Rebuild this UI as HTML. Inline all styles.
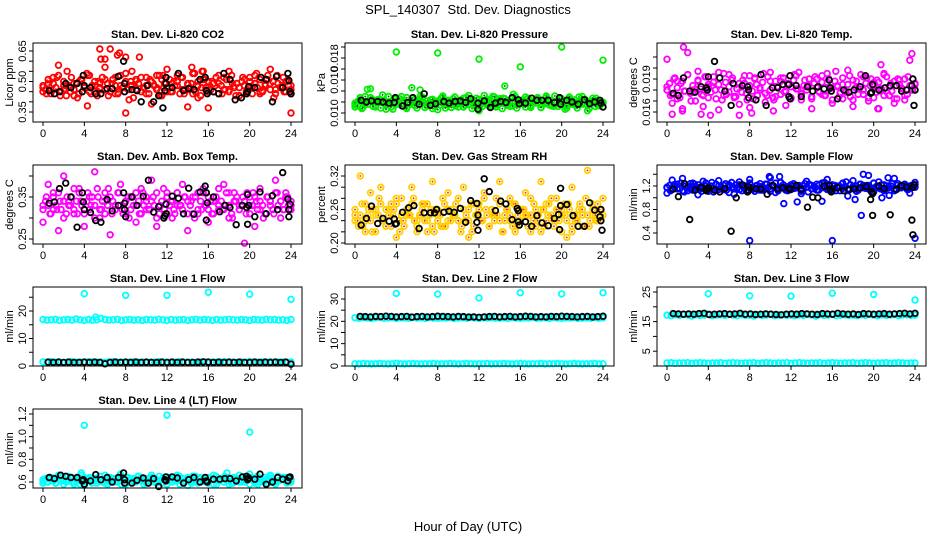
<!DOCTYPE html>
<html><head><meta charset="utf-8"><title>SPL_140307 Std. Dev. Diagnostics</title>
<style>html,body{margin:0;padding:0;background:#fff;}svg{display:block;font-family:"Liberation Sans",sans-serif;}</style>
</head><body>
<svg id="chart" width="936" height="540" viewBox="0 0 936 540" xmlns="http://www.w3.org/2000/svg">
<rect x="0" y="0" width="936" height="540" fill="#fff"/>
<text x="468" y="14" text-anchor="middle" font-size="13">SPL_140307&#160; Std. Dev. Diagnostics</text>
<text x="468" y="531" text-anchor="middle" font-size="13">Hour of Day (UTC)</text>
</svg>
<script>
const hourTicks=[0,4,8,12,16,20,24];
// Panel 1 CO2
const co2A=[0.47,0.44,0.50,0.46,0.52,0.43,0.48,0.55,0.45,0.49,0.42,0.51,0.47,0.53,0.44,0.48,0.50,0.46,0.57,0.43,0.49,0.52,0.45,0.47,0.54,0.41,0.48,0.50,0.62,0.46,0.44,0.51,0.49,0.53,0.43,0.47,0.56,0.45,0.50,0.48,0.52,0.44,0.46,0.49,0.54,0.42,0.47,0.51,0.45,0.50,0.48,0.53,0.44,0.46,0.55,0.49,0.43,0.47,0.52,0.45,0.50,0.48,0.54,0.44,0.46,0.51,0.49,0.42,0.53,0.47,0.45,0.50,0.48];
const co2B=[0.45,0.49,0.52,0.58,0.46,0.48,0.43,0.50,0.47,0.53,0.45,0.49,0.51,0.66,0.44,0.48,0.62,0.50,0.46,0.52,0.48,0.39,0.47,0.51,0.45,0.49,0.53,0.46,0.48,0.44,0.50,0.55,0.47,0.45,0.49,0.52,0.46,0.48,0.43,0.51,0.47,0.53,0.45,0.49,0.56,0.46,0.48,0.50,0.44];
const co2C=[0.48,0.46,0.51,0.44,0.49,0.47,0.53,0.45,0.50,0.43,0.48,0.52,0.46,0.49,0.44,0.51,0.47,0.54,0.45,0.48,0.50,0.43,0.47,0.52,0.46,0.49,0.45,0.51,0.48,0.44,0.53,0.47,0.50,0.46,0.48,0.42,0.51,0.49,0.45,0.47,0.52,0.44,0.50,0.48,0.46,0.53,0.43,0.49,0.47,0.51,0.45,0.48,0.50,0.44,0.52,0.46,0.49,0.47,0.54,0.45,0.48,0.43,0.51,0.47,0.50,0.46,0.49,0.52,0.44,0.48,0.46,0.51,0.45,0.53,0.47,0.49,0.43,0.50,0.48,0.46,0.52,0.44,0.49,0.47,0.51,0.45,0.48,0.53,0.46,0.50,0.44,0.49,0.47,0.52,0.45,0.48,0.46];
const co2Out=[[5.5,0.66],[5.6,0.61],[6.0,0.61],[7.2,0.63],[7.4,0.64],[4.3,0.38],[8.0,0.345],[24,0.345],[16,0.37],[14,0.375],[11.6,0.53],[14.4,0.57],[15.4,0.55],[8.6,0.55]];
const co2K=[[0.6,0.455],[1.1,0.44],[1.6,0.45],[2.2,0.49],[2.7,0.47],[3.3,0.49],[3.8,0.45],[3.9,0.53],[4.0,0.48],[4.6,0.47],[5.1,0.44],[5.6,0.44],[6.2,0.465],[6.7,0.465],[7.3,0.525],[7.8,0.6],[7.9,0.49],[7.9,0.45],[8.6,0.46],[9.1,0.455],[9.5,0.40],[10.1,0.48],[10.7,0.40],[11.2,0.43],[11.6,0.37],[11.8,0.455],[11.9,0.52],[11.9,0.49],[12.5,0.47],[13.1,0.54],[13.6,0.455],[14.1,0.465],[14.6,0.46],[15.2,0.51],[15.7,0.52],[15.8,0.455],[15.9,0.44],[16.5,0.45],[17.0,0.44],[17.5,0.54],[18.1,0.51],[18.6,0.41],[19.2,0.42],[19.7,0.44],[19.8,0.45],[19.9,0.475],[20.5,0.47],[21.1,0.52],[21.6,0.51],[22.2,0.40],[22.6,0.525],[23.2,0.47],[23.7,0.54],[23.8,0.505],[23.9,0.45],[24.0,0.44]];
// Panel 2 Pressure
const prsA=[0.0095,0.0102,0.0088,0.0110,0.0097,0.0105,0.0091,0.0100,0.0113,0.0094,0.0099,0.0087,0.0106,0.0101,0.0092,0.0108,0.0096,0.0103,0.0089,0.0111,0.0098,0.0093,0.0104,0.0100,0.0086,0.0107,0.0095,0.0102,0.0090,0.0109,0.0097,0.0101,0.0094,0.0112,0.0088,0.0099,0.0105,0.0092,0.0103,0.0096,0.0110,0.0091,0.0100,0.0107,0.0094,0.0098,0.0114,0.0089,0.0102,0.0096,0.0105,0.0093,0.0100,0.0108,0.0090,0.0097,0.0104,0.0095,0.0111,0.0092,0.0101,0.0087,0.0106,0.0099,0.0094,0.0109,0.0096,0.0103,0.0088,0.0100,0.0107,0.0093,0.0098];
const prsB=[0.0091,0.0108,0.0099,0.0124,0.0093,0.0104,0.0087,0.0101,0.0096,0.0110,0.0090,0.0126,0.0098,0.0105,0.0094,0.0088,0.0102,0.0108,0.0095,0.0100,0.0091,0.0107,0.0097,0.0103,0.0084,0.0112,0.0099,0.0094,0.0106,0.0129,0.0092,0.0101,0.0097,0.0109,0.0090,0.0104,0.0096,0.0111,0.0093,0.0100,0.0106,0.0089,0.0103,0.0098,0.0110,0.0084,0.0102,0.0095,0.0099];
const prsC=[0.0098,0.0093,0.0104,0.0090,0.0101,0.0096,0.0108,0.0092,0.0099,0.0105,0.0089,0.0102,0.0095,0.0110,0.0091,0.0100,0.0097,0.0106,0.0093,0.0103,0.0088,0.0099,0.0107,0.0094,0.0101,0.0096,0.0109,0.0090,0.0102,0.0098,0.0105,0.0092,0.0100,0.0095,0.0111,0.0089,0.0103,0.0097,0.0106,0.0093,0.0099,0.0104,0.0091,0.0108,0.0096,0.0101,0.0094,0.0107,0.0090,0.0102,0.0098,0.0105,0.0092,0.0100,0.0109,0.0095,0.0103,0.0088,0.0106,0.0097,0.0101,0.0093,0.0110,0.0096,0.0099,0.0104,0.0091,0.0107,0.0094,0.0102,0.0098,0.0105,0.0090,0.0100,0.0108,0.0095,0.0103,0.0092,0.0099,0.0106,0.0097,0.0101,0.0093,0.0109,0.0096,0.0104,0.0089,0.0102,0.0098,0.0105,0.0094,0.0100,0.0107,0.0092,0.0103,0.0097,0.0099];
const prsOut=[[4,0.0191],[8,0.0189],[12,0.0178],[16,0.0164],[20,0.0200],[24,0.0176],[1.2,0.0123],[6.3,0.0122]];
const prsK=[[0.6,0.0103],[1.1,0.0100],[1.6,0.0102],[2.2,0.0101],[2.7,0.0100],[3.3,0.0098],[3.8,0.0099],[3.9,0.0108],[4.6,0.0093],[5.1,0.0099],[5.6,0.0108],[6.2,0.0096],[6.7,0.0115],[7.3,0.0094],[7.8,0.0097],[8.6,0.0101],[9.1,0.0098],[9.7,0.0101],[10.2,0.0102],[10.7,0.0099],[11.2,0.0106],[11.9,0.0098],[11.9,0.0087],[12.5,0.0102],[13.1,0.0090],[13.6,0.0098],[14.1,0.0101],[14.6,0.0099],[15.2,0.0108],[15.8,0.0104],[15.9,0.0097],[16.5,0.0098],[17.1,0.0107],[17.6,0.0103],[18.1,0.0103],[18.7,0.0103],[19.3,0.0099],[19.8,0.0108],[19.9,0.0096],[20.5,0.0103],[21.0,0.0100],[21.6,0.0096],[22.2,0.0104],[22.7,0.0097],[23.2,0.0100],[23.7,0.0103],[23.8,0.0098],[24.0,0.0091]];
// Panel 3 Li-820 temp
const tmpA=[0.0183,0.0175,0.0190,0.0172,0.0186,0.0179,0.0194,0.0170,0.0181,0.0188,0.0176,0.0192,0.0173,0.0184,0.0180,0.0196,0.0171,0.0187,0.0178,0.0191,0.0174,0.0182,0.0189,0.0177,0.0193,0.0172,0.0185,0.0180,0.0195,0.0175,0.0188,0.0171,0.0183,0.0191,0.0178,0.0186,0.0173,0.0194,0.0181,0.0176,0.0189,0.0184,0.0172,0.0192,0.0179,0.0187,0.0175,0.0190,0.0182,0.0197,0.0174,0.0185,0.0178,0.0193,0.0171,0.0188,0.0181,0.0176,0.0191,0.0184,0.0173,0.0189,0.0179,0.0195,0.0177,0.0186,0.0172,0.0190,0.0182,0.0175,0.0192,0.0180,0.0185];
const tmpB=[0.0208,0.0168,0.0188,0.0163,0.0214,0.0178,0.0197,0.0165,0.0185,0.0192,0.0162,0.0175,0.0194,0.0173,0.0167,0.0186,0.0164,0.0191,0.0180,0.0169,0.0196,0.0174,0.0188,0.0166,0.0183,0.0193,0.0171,0.0183,0.0163,0.0190,0.0176,0.0195,0.0168,0.0184,0.0172,0.0198,0.0165,0.0181,0.0192,0.0170,0.0187,0.0163,0.0194,0.0175,0.0168,0.0189,0.0171,0.0207,0.0180];
const tmpC=[0.0180,0.0186,0.0176,0.0191,0.0182,0.0173,0.0188,0.0179,0.0194,0.0177,0.0184,0.0170,0.0189,0.0181,0.0175,0.0192,0.0183,0.0178,0.0187,0.0172,0.0185,0.0180,0.0195,0.0176,0.0183,0.0189,0.0174,0.0181,0.0186,0.0178,0.0193,0.0171,0.0184,0.0179,0.0190,0.0175,0.0182,0.0187,0.0177,0.0192,0.0180,0.0173,0.0188,0.0183,0.0176,0.0191,0.0179,0.0185,0.0172,0.0189,0.0181,0.0196,0.0177,0.0184,0.0180,0.0190,0.0174,0.0186,0.0182,0.0178,0.0193,0.0175,0.0187,0.0181,0.0171,0.0188,0.0183,0.0177,0.0191,0.0179,0.0185,0.0174,0.0189,0.0182,0.0176,0.0194,0.0180,0.0186,0.0173,0.0190,0.0184,0.0178,0.0187,0.0181,0.0175,0.0192,0.0183,0.0179,0.0188,0.0172,0.0185,0.0181,0.0190,0.0176,0.0184,0.0180,0.0186];
const tmpOut=[[0.5,0.0158],[1.6,0.0219],[1.5,0.0161],[3.3,0.0158],[4.2,0.0157],[7.0,0.0157],[8.2,0.0159],[10.3,0.0161],[20.4,0.0163],[20.7,0.0203],[23.7,0.0213]];
const tmpK=[[0.6,0.0177],[1.1,0.0175],[1.6,0.0191],[2.2,0.0179],[2.7,0.0178],[3.3,0.0183],[3.8,0.0182],[3.9,0.0180],[4.0,0.0192],[4.6,0.0206],[5.1,0.0191],[5.6,0.0179],[6.2,0.0166],[6.4,0.0186],[7.3,0.0184],[7.8,0.0183],[7.9,0.0180],[7.9,0.0173],[8.6,0.0171],[9.1,0.0194],[9.6,0.0166],[10.2,0.0182],[10.7,0.0182],[11.2,0.0185],[11.8,0.0185],[11.8,0.0174],[11.9,0.0172],[11.9,0.0193],[12.5,0.0184],[13.0,0.0174],[13.6,0.0183],[14.1,0.0179],[14.6,0.0183],[15.2,0.0181],[15.7,0.0189],[15.8,0.0182],[15.9,0.0179],[16.5,0.0172],[17.1,0.0180],[17.6,0.0178],[18.1,0.0180],[18.7,0.0183],[19.2,0.0193],[19.7,0.0177],[19.8,0.0178],[19.9,0.0185],[20.5,0.0180],[21.1,0.0182],[21.6,0.0184],[22.2,0.0184],[22.7,0.0179],[23.2,0.0180],[23.7,0.0184],[23.8,0.0190],[23.9,0.0166],[24.0,0.0180]];
// Panel 4 Amb box temp
const ambA=[0.33,0.35,0.31,0.36,0.32,0.34,0.30,0.35,0.33,0.37,0.31,0.34,0.32,0.36,0.33,0.30,0.35,0.32,0.34,0.37,0.31,0.33,0.36,0.32,0.34,0.30,0.35,0.33,0.31,0.36,0.34,0.32,0.35,0.30,0.33,0.37,0.31,0.34,0.32,0.36,0.33,0.35,0.31,0.34,0.30,0.36,0.32,0.33,0.35,0.31,0.34,0.37,0.32,0.33,0.36,0.30,0.34,0.32,0.35,0.31,0.33,0.36,0.34,0.32,0.30,0.35,0.33,0.31,0.36,0.34,0.32,0.35,0.33];
const ambB=[0.29,0.38,0.32,0.27,0.40,0.34,0.31,0.37,0.28,0.35,0.41,0.30,0.36,0.26,0.33,0.38,0.31,0.35,0.29,0.37,0.32,0.39,0.28,0.34,0.36,0.30,0.33,0.38,0.27,0.35,0.31,0.37,0.29,0.34,0.32,0.38,0.30,0.36,0.33,0.24,0.35,0.28,0.37,0.31,0.34,0.39,0.30,0.36,0.32];
const ambC=[0.32,0.34,0.33,0.31,0.35,0.33,0.36,0.32,0.34,0.31,0.33,0.35,0.32,0.34,0.36,0.33,0.31,0.34,0.32,0.35,0.33,0.37,0.32,0.34,0.31,0.33,0.35,0.34,0.32,0.36,0.33,0.31,0.34,0.35,0.32,0.33,0.36,0.34,0.31,0.33,0.35,0.32,0.34,0.33,0.36,0.31,0.34,0.32,0.35,0.33,0.34,0.31,0.36,0.33,0.32,0.35,0.34,0.33,0.31,0.35,0.32,0.34,0.36,0.33,0.32,0.34,0.31,0.35,0.33,0.34,0.32,0.36,0.33,0.31,0.34,0.35,0.32,0.33,0.34,0.36,0.31,0.33,0.35,0.32,0.34,0.33,0.31,0.35,0.34,0.32,0.36,0.33,0.34,0.32,0.35,0.33,0.34];
const ambK=[[0.6,0.335],[1.1,0.338],[1.6,0.37],[2.2,0.383],[2.7,0.35],[3.3,0.278],[3.8,0.36],[3.9,0.338],[4.0,0.32],[4.6,0.313],[5.1,0.294],[5.6,0.29],[6.2,0.344],[6.7,0.317],[7.3,0.33],[7.8,0.36],[7.9,0.335],[7.9,0.32],[8.0,0.303],[8.6,0.35],[9.1,0.33],[9.7,0.352],[10.2,0.39],[10.7,0.314],[11.2,0.327],[11.7,0.30],[11.8,0.305],[11.9,0.333],[11.9,0.31],[12.5,0.352],[13.1,0.347],[13.6,0.31],[14.1,0.371],[14.6,0.309],[15.2,0.362],[15.7,0.376],[15.8,0.295],[15.8,0.36],[15.9,0.336],[16.5,0.35],[17.1,0.315],[17.6,0.33],[18.1,0.325],[18.7,0.284],[19.3,0.33],[19.7,0.325],[19.8,0.356],[19.8,0.285],[19.9,0.33],[20.5,0.303],[21.0,0.362],[21.6,0.31],[22.2,0.353],[22.7,0.32],[23.2,0.408],[23.7,0.345],[23.8,0.32],[23.8,0.303],[23.9,0.333]];
// Panel 5 RH
const rhA=[0.25,0.23,0.27,0.24,0.26,0.22,0.25,0.28,0.24,0.23,0.26,0.25,0.27,0.22,0.24,0.26,0.25,0.28,0.23,0.25,0.27,0.24,0.26,0.22,0.25,0.23,0.27,0.24,0.26,0.25,0.28,0.23,0.24,0.26,0.22,0.25,0.27,0.24,0.26,0.23,0.25,0.28,0.24,0.22,0.26,0.25,0.27,0.23,0.24,0.26,0.25,0.22,0.27,0.24,0.26,0.23,0.25,0.28,0.24,0.26,0.22,0.25,0.27,0.23,0.24,0.26,0.25,0.28,0.23,0.25,0.24,0.26,0.25];
const rhB=[0.24,0.32,0.22,0.29,0.26,0.30,0.23,0.27,0.21,0.28,0.25,0.30,0.24,0.27,0.22,0.31,0.26,0.23,0.29,0.25,0.24,0.30,0.21,0.27,0.26,0.29,0.23,0.25,0.31,0.24,0.28,0.22,0.26,0.29,0.25,0.23,0.31,0.27,0.24,0.28,0.26,0.21,0.30,0.25,0.23,0.33,0.27,0.24,0.28];
const rhC=[0.26,0.24,0.25,0.23,0.27,0.25,0.24,0.26,0.22,0.25,0.27,0.24,0.26,0.25,0.23,0.26,0.28,0.24,0.25,0.23,0.26,0.25,0.27,0.24,0.22,0.25,0.26,0.24,0.27,0.25,0.23,0.26,0.24,0.25,0.28,0.23,0.26,0.24,0.25,0.27,0.24,0.22,0.26,0.25,0.24,0.27,0.23,0.25,0.26,0.24,0.28,0.25,0.23,0.26,0.24,0.25,0.27,0.22,0.25,0.26,0.24,0.23,0.27,0.25,0.24,0.26,0.25,0.23,0.28,0.24,0.26,0.25,0.22,0.26,0.24,0.27,0.25,0.23,0.26,0.24,0.25,0.27,0.24,0.26,0.22,0.25,0.24,0.27,0.26,0.23,0.25,0.24,0.26,0.25,0.27,0.24,0.25];
const rhK=[[0.6,0.232],[1.1,0.244],[1.6,0.266],[2.2,0.235],[2.7,0.244],[3.3,0.239],[3.8,0.243],[3.9,0.234],[4.0,0.235],[4.6,0.255],[5.2,0.263],[5.7,0.267],[6.2,0.226],[6.7,0.254],[7.3,0.254],[7.7,0.254],[7.9,0.260],[8.6,0.255],[9.1,0.257],[9.6,0.255],[10.2,0.262],[10.7,0.237],[11.2,0.276],[11.8,0.271],[11.8,0.237],[11.9,0.25],[11.9,0.223],[12.5,0.315],[13.0,0.292],[13.6,0.258],[14.1,0.275],[14.6,0.27],[15.2,0.242],[15.7,0.262],[15.8,0.258],[15.8,0.238],[15.9,0.232],[16.5,0.238],[17.1,0.23],[17.6,0.249],[18.1,0.236],[18.7,0.231],[19.3,0.244],[19.7,0.251],[19.8,0.224],[19.9,0.298],[19.9,0.267],[20.5,0.269],[21.1,0.249],[21.6,0.23],[22.2,0.23],[22.7,0.272],[23.2,0.259],[23.7,0.247],[23.8,0.24],[23.8,0.26],[23.9,0.223]];
// Panel 6 Sample flow
const sfA=[1.18,1.12,1.22,1.15,1.25,1.10,1.19,1.14,1.23,1.17,1.11,1.21,1.16,1.26,1.13,1.20,1.15,1.24,1.09,1.18,1.22,1.14,1.19,1.12,1.25,1.16,1.21,1.13,1.17,1.23,1.11,1.20,1.15,1.26,1.18,1.12,1.22,1.16,1.19,1.14,1.24,1.10,1.21,1.17,1.13,1.25,1.18,1.15,1.22,1.12,1.20,1.16,1.27,1.14,1.19,1.11,1.23,1.17,1.21,1.13,1.25,1.18,1.15,1.22,1.16,1.20,1.12,1.24,1.17,1.19,1.14,1.21,1.18];
const sfB=[1.08,1.30,1.15,1.33,1.12,1.25,1.05,1.28,1.18,1.10,1.29,1.14,1.22,1.06,1.27,1.17,1.31,1.11,1.24,1.16,1.34,1.09,1.26,1.13,1.20,1.20,1.07,1.28,1.15,1.23,0.94,1.31,1.12,1.19,1.25,1.03,1.29,1.16,1.21,1.38,1.10,1.27,1.14,1.04,1.33,1.18,1.22,1.08,1.26];
const sfC=[1.17,1.21,1.14,1.19,1.23,1.16,1.12,1.20,1.18,1.24,1.13,1.19,1.22,1.15,1.17,1.25,1.11,1.20,1.16,1.23,1.14,1.18,1.21,1.13,1.19,1.26,1.15,1.17,1.22,1.12,1.20,1.18,1.24,1.14,1.16,1.21,1.19,1.13,1.23,1.17,1.15,1.20,1.25,1.12,1.18,1.22,1.16,1.19,1.14,1.24,1.17,1.21,1.11,1.20,1.18,1.23,1.15,1.19,1.13,1.22,1.17,1.26,1.14,1.20,1.16,1.21,1.18,1.12,1.24,1.19,1.15,1.22,1.17,1.20,1.13,1.23,1.18,1.16,1.21,1.14,1.25,1.19,1.17,1.22,1.12,1.20,1.18,1.24,1.15,1.21,1.17,1.19,1.23,1.14,1.20,1.18,1.22];
const sfOut=[[8,0.27],[16,0.27],[24,0.31],[18.8,0.70],[19.0,1.40],[11.3,0.90],[12.6,0.93],[18.2,0.97],[20.8,1.00],[21.4,1.34],[10.9,1.36],[9.9,1.36]];
const sfK=[[0.6,1.15],[1.1,1.02],[1.7,1.24],[2.2,0.63],[2.7,1.13],[3.3,1.18],[3.8,1.12],[3.9,1.14],[4.0,1.17],[4.6,1.13],[5.1,1.10],[5.6,1.16],[6.2,0.43],[6.7,1.00],[7.3,1.22],[7.8,1.10],[7.9,1.13],[7.9,1.19],[8.6,1.15],[9.1,1.15],[9.7,1.06],[10.2,1.21],[10.7,1.15],[11.2,1.17],[11.8,1.16],[11.9,1.14],[12.5,1.21],[13.0,1.14],[13.6,0.84],[14.1,1.01],[14.6,1.00],[15.2,1.20],[15.7,1.21],[15.8,1.14],[15.9,1.10],[16.5,1.17],[17.1,1.12],[17.6,1.14],[18.1,1.15],[18.7,1.17],[19.3,1.19],[19.7,0.97],[19.8,1.10],[19.9,0.70],[19.9,1.07],[20.5,1.20],[21.0,1.16],[21.6,0.71],[22.2,1.14],[22.7,1.21],[23.2,1.18],[23.7,0.62],[23.8,1.18],[23.8,0.37],[23.9,1.22]];
// Panel 7 Line 1 flow
const l1Main=[16.9,16.7,16.8,17.0,16.6,16.8,16.9,16.7,17.1,16.8,16.6,16.9,16.7,16.8,17.3,16.9,16.7,16.8,17.0,16.6,16.8,16.9,16.7,16.8,16.6,16.9,16.8,16.7,17.0,16.8,16.6,16.9,16.7,16.8,16.9,16.6,16.8,17.0,16.7,16.9,16.8,16.6,16.9,16.7,16.8,17.0,16.8,16.7,16.9,16.8,16.6,16.9,16.8,16.7,17.0,16.8,16.9,16.7,16.8,16.6,16.9];
const l1Low=[1.5,1.4,1.6,1.4,1.5,1.3,1.5,1.6,1.4,1.5,1.4,1.6,1.5,1.4,1.5,1.3,1.5,1.6,1.4,1.5,1.4,1.5,1.6,1.4,1.5,1.3,1.5,1.4,1.6,1.5,1.4,1.5,1.4,1.6,1.5,1.4,1.5,1.3,1.5,1.6,1.4,1.5,1.4,1.5,1.6,1.4,1.5,1.3,1.5,1.4,1.6,1.5,1.4,1.5,1.4,1.6,1.5,1.4,1.5,1.3,1.5];
const l1K=[1.4,1.3,1.4,1.3,1.4,1.3,1.3,1.4,1.3,1.4,1.3,0.8,1.3,1.4,1.3,1.4,1.3,1.4,1.3,1.4,1.3,1.3,1.4,1.3,1.4,1.3,1.4,1.3,1.3,1.4,1.5,1.4,1.3,1.4,1.3,1.4,1.3,1.4,1.3,1.3,1.4,1.3,1.4,1.3,1.4,1.3,1.4,0.7];
const l1Out=[[4,26.3],[8,25.7],[12,25.7],[16,26.8],[20,26.1],[24,24.2],[5.1,17.8]];
// Panel 8 Line 2 flow
const l2Main=[21.6,21.4,21.7,21.5,21.3,21.6,21.8,21.4,21.5,21.7,21.3,21.6,21.5,21.4,21.8,21.5,21.6,21.3,21.7,21.5,21.4,21.6,21.5,21.7,21.3,21.5,21.6,21.4,21.8,21.5,21.3,21.6,21.5,21.7,21.4,21.5,21.6,21.3,21.7,21.5,21.4,21.6,21.5,21.8,21.4,21.5,21.6,21.3,21.7,21.5,21.4,21.6,21.5,21.7,21.3,21.5,21.6,21.4,21.7,21.5,21.6];
const l2Low=[1.0,0.9,1.1,1.0,0.9,1.0,1.1,1.0,0.9,1.0,1.2,1.0,0.9,1.0,1.1,1.0,0.9,1.0,1.0,1.1,0.9,1.0,1.0,1.1,1.0,0.9,1.0,1.1,1.0,0.9,1.0,1.0,1.1,0.9,1.0,1.0,1.1,1.0,0.9,1.0,1.1,1.0,0.9,1.0,1.0,1.1,0.9,1.0,1.0,1.1,1.0,0.9,1.0,1.1,1.0,0.9,1.0,1.0,1.1,0.9,1.0];
const l2K=[22.2,22.1,22.0,22.2,22.1,22.3,22.2,22.0,22.1,22.2,21.9,22.1,22.2,22.0,22.1,22.3,22.2,22.1,22.0,22.2,22.1,21.9,22.0,21.8,22.0,22.1,22.2,22.0,22.1,22.2,22.0,22.1,22.3,22.2,22.0,22.1,22.0,22.2,22.1,22.3,22.2,22.1,22.0,22.1,22.2,22.0,22.1,22.3];
const l2Out=[[4,32.5],[8,32.2],[12,30.5],[16,32.8],[20,32.3],[24,32.8]];
// Panel 9 Line 3 flow
const l3Main=[17.2,17.0,17.3,17.1,17.4,17.2,16.9,17.3,17.1,17.2,17.5,17.0,17.2,17.3,17.1,17.4,17.2,17.0,17.3,17.1,17.2,16.9,17.3,17.1,17.2,17.4,17.0,17.2,17.3,17.1,17.2,17.0,17.3,17.1,17.4,17.2,16.9,17.3,17.1,17.2,17.4,17.0,17.2,17.3,17.1,17.2,17.0,17.3,17.1,17.4,17.2,17.0,17.3,17.1,17.2,17.4,17.0,17.2,17.3,17.1,17.2];
const l3Low=[1.0,1.1,0.9,1.0,1.0,1.1,0.9,1.0,1.1,1.0,0.9,1.0,1.0,1.1,0.9,1.0,1.1,1.0,0.9,1.0,1.0,1.1,0.9,1.0,1.1,1.0,0.9,1.0,1.0,1.1,0.9,1.0,1.1,1.0,0.9,1.0,1.0,1.1,0.9,1.0,1.1,1.0,0.9,1.0,1.0,1.1,0.9,1.0,1.1,1.0,0.9,1.0,1.0,1.1,0.9,1.0,1.1,1.0,0.9,1.0,1.0];
const l3K=[17.7,17.6,17.5,17.6,17.5,17.7,17.8,17.4,17.5,17.6,17.7,17.5,17.6,17.8,17.5,17.6,17.4,17.5,17.6,17.5,17.4,17.3,17.5,17.6,17.5,17.7,17.6,17.5,17.4,17.7,17.6,17.5,17.8,17.6,17.5,17.6,17.4,17.7,17.6,17.5,17.6,17.7,17.5,17.6,17.7,17.8,17.6,17.8];
const l3Out=[[4,24.4],[8,23.7],[12,23.6],[16,24.6],[20,24.2],[24,22.3]];
// Panel 10 Line 4 flow
const l4A=[0.62,0.60,0.64,0.59,0.63,0.61,0.65,0.60,0.62,0.58,0.64,0.61,0.63,0.59,0.62,0.66,0.60,0.63,0.61,0.58,0.64,0.62,0.60,0.65,0.61,0.59,0.63,0.62,0.60,0.64,0.58,0.62,0.61,0.65,0.60,0.63,0.59,0.62,0.64,0.61,0.60,0.63,0.58,0.62,0.65,0.61,0.59,0.63,0.62,0.60,0.64,0.61,0.58,0.63,0.62,0.66,0.60,0.61,0.64,0.59,0.62];
const l4B=[0.59,0.63,0.61,0.66,0.58,0.62,0.60,0.64,0.57,0.63,0.61,0.65,0.59,0.62,0.60,0.67,0.58,0.63,0.61,0.64,0.60,0.66,0.59,0.62,0.58,0.64,0.61,0.63,0.57,0.65,0.60,0.62,0.59,0.66,0.61,0.63,0.58,0.64,0.60,0.62,0.67,0.59,0.63,0.61,0.65,0.58,0.62,0.64,0.60];
const l4C=[0.61,0.63,0.60,0.64,0.62,0.59,0.65,0.61,0.63,0.60,0.62,0.64,0.58,0.63,0.61,0.66,0.60,0.62,0.64,0.59,0.63,0.61,0.65,0.60,0.62,0.58,0.64,0.61,0.63,0.60,0.66,0.62,0.59,0.64,0.61,0.63,0.60,0.65,0.62,0.58,0.63,0.61,0.64,0.60,0.62,0.65,0.59,0.63,0.61,0.64,0.60,0.62,0.66,0.58,0.63,0.61,0.64,0.60,0.62,0.65,0.59,0.63,0.61,0.60,0.64,0.62,0.58,0.65,0.61,0.63,0.60,0.62,0.64,0.59,0.63,0.61,0.66,0.60,0.62,0.64,0.58,0.63,0.61,0.65,0.60,0.62,0.64,0.59,0.63,0.61,0.60,0.65,0.62,0.64,0.61,0.63,0.62];
const l4K=[[0.6,0.64],[1.1,0.63],[1.7,0.66],[2.2,0.65],[2.7,0.64],[3.3,0.64],[3.8,0.61],[3.9,0.62],[4.0,0.58],[4.6,0.61],[5.1,0.665],[5.6,0.62],[6.2,0.64],[6.7,0.60],[7.3,0.64],[7.8,0.68],[7.9,0.62],[7.9,0.59],[8.6,0.59],[9.1,0.615],[9.7,0.635],[10.2,0.59],[10.7,0.63],[11.2,0.56],[11.8,0.62],[11.9,0.61],[11.9,0.645],[12.5,0.645],[13.0,0.635],[13.6,0.59],[14.1,0.62],[14.6,0.64],[15.2,0.60],[15.7,0.64],[15.8,0.61],[15.9,0.60],[16.5,0.625],[17.1,0.625],[17.6,0.63],[18.1,0.63],[18.7,0.61],[19.3,0.645],[19.7,0.65],[19.8,0.62],[19.9,0.635],[20.5,0.625],[21.0,0.67],[21.6,0.58],[22.2,0.60],[22.7,0.64],[23.2,0.625],[23.7,0.61],[23.8,0.64],[23.9,0.645]];
const l4Out=[[4,1.10],[12,1.19],[20,1.04],[3.7,0.68],[17.8,0.68]];

const NS='http://www.w3.org/2000/svg';
const svg=document.getElementById('chart');
function mk(tag,attrs,parent){const e=document.createElementNS(NS,tag);for(const k in attrs)e.setAttribute(k,attrs[k]);(parent||svg).appendChild(e);return e;}

const panels=[
 {col:0,row:0,name:'co2',title:'Stan. Dev. Li-820 CO2',ylab:'Licor ppm',v0:0.35,p0:112,v1:0.65,p1:51,ticks:[0.35,0.40,0.45,0.50,0.55,0.60,0.65],labels:[[0.35,'0.35'],[0.50,'0.50'],[0.65,'0.65']],
  layers:[{vals:co2A,c:'#ff0000',cross:'#ffffff'},{vals:co2B,c:'#ff0000',cross:'#ffffff'},{vals:co2C,c:'#ff0000',cross:'#ffffff'},{pairs:co2Out,c:'#ff0000'},{pairs:co2K,c:'#000000'}]},
 {col:1,row:0,name:'pressure',title:'Stan. Dev. Li-820 Pressure',ylab:'kPa',v0:0.010,p0:102,v1:0.018,p1:58,ticks:[0.008,0.010,0.012,0.014,0.016,0.018,0.020],labels:[[0.008,'0.010'],[0.014,'0.010'],[0.018,'0.018']],
  layers:[{vals:prsA,c:'#00ee00',cross:'#005500'},{vals:prsB,c:'#00ee00',cross:'#005500'},{vals:prsC,c:'#00ee00',cross:'#005500'},{pairs:prsOut,c:'#00ee00'},{pairs:prsK,c:'#000000'}]},
 {col:2,row:0,name:'li820-temp',title:'Stan. Dev. Li-820 Temp.',ylab:'degrees C',v0:0.016,p0:112,v1:0.019,p1:79,ticks:[0.016,0.017,0.018,0.019,0.020,0.021],labels:[[0.016,'0.016'],[0.019,'0.019']],
  layers:[{vals:tmpA,c:'#ff00ff',cross:'#ffffff'},{vals:tmpB,c:'#ff00ff',cross:'#ffffff'},{vals:tmpC,c:'#ff00ff',cross:'#ffffff'},{pairs:tmpOut,c:'#ff00ff'},{pairs:tmpK,c:'#000000'}]},
 {col:0,row:1,name:'amb-box-temp',title:'Stan. Dev. Amb. Box Temp.',ylab:'degrees C',v0:0.25,p0:239,v1:0.35,p1:197,ticks:[0.25,0.30,0.35,0.40],labels:[[0.25,'0.25'],[0.35,'0.35']],
  layers:[{vals:ambA,c:'#ff00ff',cross:'#ffffff'},{vals:ambB,c:'#ff00ff',cross:'#ffffff'},{vals:ambC,c:'#ff00ff',cross:'#ffffff'},{pairs:ambK,c:'#000000'}]},
 {col:1,row:1,name:'gas-stream-rh',title:'Stan. Dev. Gas Stream RH',ylab:'percent',v0:0.20,p0:243,v1:0.32,p1:176,ticks:[0.20,0.22,0.24,0.26,0.28,0.30,0.32],labels:[[0.20,'0.20'],[0.26,'0.26'],[0.32,'0.32']],
  layers:[{vals:rhA,c:'#ffd000',cross:'#ff2000'},{vals:rhB,c:'#ffd000',cross:'#ff2000'},{vals:rhC,c:'#ffd000',cross:'#ff2000'},{pairs:rhK,c:'#000000'}]},
 {col:2,row:1,name:'sample-flow',title:'Stan. Dev. Sample Flow',ylab:'ml/min',v0:0.4,p0:233,v1:1.2,p1:186,ticks:[0.4,0.6,0.8,1.0,1.2,1.4],labels:[[0.4,'0.4'],[0.8,'0.8'],[1.2,'1.2']],
  layers:[{vals:sfA,c:'#0000ff'},{vals:sfB,c:'#0000ff'},{vals:sfC,c:'#0000ff'},{pairs:sfOut,c:'#0000ff'},{pairs:sfK,c:'#000000'}]},
 {col:0,row:2,name:'line1-flow',title:'Stan. Dev. Line 1 Flow',ylab:'ml/min',v0:0,p0:366,v1:20,p1:311,ticks:[0,5,10,15,20,25],labels:[[0,'0'],[10,'10'],[20,'20']],
  layers:[{vals:l1Main,c:'#00ffff'},{vals:l1Low,c:'#00ffff'},{pairs:l1Out,c:'#00ffff'},{vals:l1K,c:'#000000',x0:0.5,x1:24}]},
 {col:1,row:2,name:'line2-flow',title:'Stan. Dev. Line 2 Flow',ylab:'ml/min',v0:0,p0:366,v1:30,p1:299,ticks:[0,5,10,15,20,25,30],labels:[[0,'0'],[10,'10'],[20,'20'],[30,'30']],
  layers:[{vals:l2Main,c:'#00ffff'},{vals:l2Low,c:'#00ffff'},{pairs:l2Out,c:'#00ffff'},{vals:l2K,c:'#000000',x0:0.5,x1:24}]},
 {col:2,row:2,name:'line3-flow',title:'Stan. Dev. Line 3 Flow',ylab:'ml/min',v0:0,p0:366,v1:25,p1:292,ticks:[0,5,10,15,20,25],labels:[[5,'5'],[15,'15'],[25,'25']],
  layers:[{vals:l3Main,c:'#00ffff'},{vals:l3Low,c:'#00ffff'},{pairs:l3Out,c:'#00ffff'},{vals:l3K,c:'#000000',x0:0.6,x1:24}]},
 {col:0,row:3,name:'line4-flow',title:'Stan. Dev. Line 4 (LT) Flow',ylab:'ml/min',v0:0.6,p0:482,v1:1.2,p1:414,ticks:[0.6,0.7,0.8,0.9,1.0,1.1,1.2],labels:[[0.6,'0.6'],[0.8,'0.8'],[1.0,'1.0'],[1.2,'1.2']],
  layers:[{vals:l4A,c:'#00ffff'},{vals:l4B,c:'#00ffff'},{vals:l4C,c:'#00ffff'},{pairs:l4Out,c:'#00ffff'},{pairs:l4K,c:'#000000'}]}
];

panels.forEach(p=>{
  const left=33+312*p.col, right=302+312*p.col, top=43+122*p.row, bottom=122+122*p.row;
  const xs=h=>left+10+h*(248/24);
  const ys=v=>p.p0+(v-p.v0)*(p.p1-p.p0)/(p.v1-p.v0);
  const g=mk('g',{});
  
  
  const t=mk('text',{x:(left+right)/2,y:top-5,'text-anchor':'middle','font-size':11,'font-weight':'bold'},g);
  t.textContent=p.title;
  
  
  const yl=mk('text',{x:0,y:0,'text-anchor':'middle','font-size':11,transform:`translate(${left-20},${(top+bottom)/2}) rotate(-90)`},g);
  yl.textContent=p.ylab;
  
  
  const pg=mk('g',{},g);
  
  
  p.layers.forEach(L=>{
    let pts=[];
    if(L.vals){const a=L.x0||0,b=(L.x1===undefined?24:L.x1);const n=L.vals.length;L.vals.forEach((v,i)=>pts.push([a+i*(b-a)/(n-1),v]));}
    else pts=L.pairs;
    pts.forEach(([h,v])=>{
      const cx=xs(h),cy=ys(v);
      const c=mk('circle',{cx:cx.toFixed(1),cy:cy.toFixed(1),r:2.8,fill:'none',stroke:L.c,'stroke-width':1.8},pg);
      
      
      if(L.cross){
        const x=mk('path',{d:`M${(cx-1).toFixed(1)} ${cy.toFixed(1)}h2M${cx.toFixed(1)} ${(cy-1).toFixed(1)}v2`,stroke:L.cross,'stroke-width':0.8},pg);
        
        
      }
    });
  });
  const box=mk('rect',{x:left,y:top,width:right-left,height:bottom-top,fill:'none',stroke:'#000','stroke-width':1},g);
  
  
  const ya=mk('g',{},g);
  
  
  const tk=p.ticks.map(v=>ys(v));
  const ax=mk('line',{x1:left,x2:left,y1:Math.min(...tk),y2:Math.max(...tk),stroke:'#000'},ya);
  
  
  p.ticks.forEach(v=>{const y=ys(v);const l=mk('line',{x1:left-4,x2:left,y1:y,y2:y,stroke:'#000'},ya);
    
    });
  p.labels.forEach(([v,s])=>{const y=ys(v);const tx=mk('text',{x:0,y:0,'text-anchor':'middle','font-size':11,transform:`translate(${left-7},${y}) rotate(-90)`},ya);
    tx.textContent=s;
    
    });
  const xa=mk('g',{},g);
  
  
  const xl=mk('line',{x1:xs(0),x2:xs(24),y1:bottom,y2:bottom,stroke:'#000'},xa);
  
  
  hourTicks.forEach(h=>{const x=xs(h);const l=mk('line',{x1:x,x2:x,y1:bottom,y2:bottom+4,stroke:'#000'},xa);
    
    
    const tx=mk('text',{x:x,y:bottom+15,'text-anchor':'middle','font-size':11},xa);
    tx.textContent=String(h);
    
    });
});
</script>
</body></html>
